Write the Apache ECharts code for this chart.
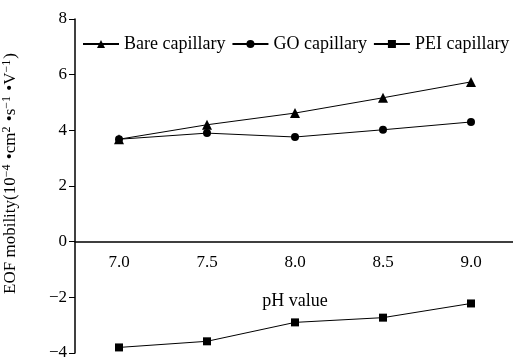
<!DOCTYPE html>
<html>
<head>
<meta charset="utf-8">
<script src="https://cdn.jsdelivr.net/npm/echarts@6/dist/echarts.min.js"></script>
<style>
  html, body { margin: 0; padding: 0; background: #fff; }
  #main { width: 513px; height: 361px; }
</style>
</head>
<body>
<div id="main"></div>
<script>
const phValues = ['7.0', '7.5', '8.0', '8.5', '9.0'];
const bareCapillary = [3.68, 4.2, 4.62, 5.17, 5.74];
const goCapillary = [3.68, 3.9, 3.76, 4.02, 4.3];
const peiCapillary = [-3.8, -3.58, -2.9, -2.73, -2.22];

const font = "'Liberation Serif', 'Times New Roman', serif";
const chart = echarts.init(document.getElementById('main'));

const lineSeries = (name, data, symbol, size) => ({
  name: name,
  type: 'line',
  data: data,
  symbol: symbol,
  symbolSize: size,
  itemStyle: { color: '#000' },
  lineStyle: { color: '#000', width: 1 },
  animation: false
});

const option = {
  textStyle: { fontFamily: font },
  legend: {
    top: 35,
    left: 82,
    padding: 0,
    width: 431,
    itemWidth: 36,
    itemHeight: 10,
    itemGap: 6,
    textStyle: { fontFamily: font, fontSize: 18, color: '#000' },
    data: ['Bare capillary', 'GO capillary', 'PEI capillary']
  },
  grid: { left: 75, top: 19, width: 440, bottom: 8, outerBoundsMode: 'none' },
  xAxis: {
    type: 'category',
    data: phValues,
    boundaryGap: true,
    offset: -111,
    name: 'pH value',
    nameLocation: 'middle',
    nameGap: 50,
    nameTextStyle: { fontFamily: font, fontSize: 18, color: '#000' },
    axisLine: { onZero: false, lineStyle: { color: '#000', width: 1.5 } },
    axisTick: { alignWithLabel: true, inside: true, length: 6, lineStyle: { color: '#000' } },
    axisLabel: { fontFamily: font, fontSize: 17, color: '#000', margin: 12 },
    splitLine: { show: false }
  },
  yAxis: {
    type: 'value',
    min: -4,
    max: 8,
    interval: 2,
    name: '{n|EOF mobility(10}{s|\u22124}{n| \u2022cm}{s|2}{n| \u2022s}{s|\u22121}{n| \u2022V}{s|\u22121}{n|)}',
    nameLocation: 'middle',
    nameGap: 54,
    nameTextStyle: {
      fontFamily: font, fontSize: 17, color: '#000', padding: [0, 0, 0, 25],
      rich: {
        n: { fontFamily: font, fontSize: 17, color: '#000', lineHeight: 20 },
        s: { fontFamily: font, fontSize: 12, color: '#000', lineHeight: 20, verticalAlign: 'top', padding: [0, 1, 0, 0] }
      }
    },
    axisLine: { show: true, lineStyle: { color: '#000', width: 1.5 } },
    axisTick: { show: true, length: 6, lineStyle: { color: '#000' } },
    axisLabel: {
      fontFamily: font, fontSize: 17, color: '#000', margin: 8,
      formatter: v => String(v).replace('-', '\u2212')
    },
    splitLine: { show: false }
  },
  series: [
    lineSeries('Bare capillary', bareCapillary, 'triangle', 10),
    lineSeries('GO capillary', goCapillary, 'circle', 8),
    lineSeries('PEI capillary', peiCapillary, 'rect', 8)
  ]
};

chart.setOption(option);
</script>
</body>
</html>
